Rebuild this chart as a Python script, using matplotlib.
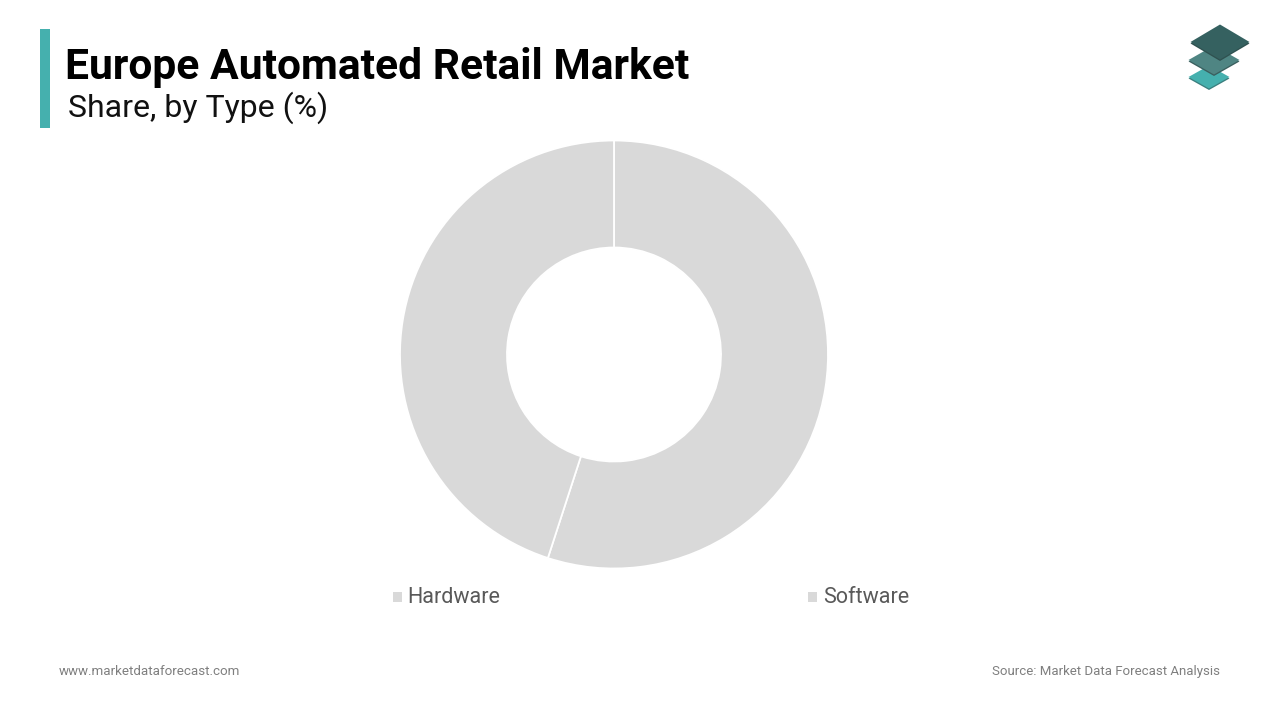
import matplotlib
matplotlib.use("Agg")
import matplotlib.pyplot as plt
from matplotlib.patches import Polygon, Rectangle

categories = ["Hardware", "Software"]
shares = [45, 55]
title = "Europe Automated Retail Market"
subtitle = "Share, by Type (%)"
footer_left = "www.marketdataforecast.com"
footer_right = "Source: Market Data Forecast Analysis"
GREY = "#D9D9D9"

plt.rcParams["font.family"] = ["Roboto", "DejaVu Sans"]
fig = plt.figure(figsize=(12.8, 7.2), dpi=100, facecolor="white")
bg = fig.add_axes([0, 0, 1, 1])
bg.set_xlim(0, 1280); bg.set_ylim(720, 0); bg.axis("off")

bg.add_patch(Rectangle((40, 29), 10, 99, fc="#45B0AE", ec="none"))
bg.text(65, 67, title, fontsize=30.7, fontweight="bold", color="#000000", va="center", ha="left")
bg.text(67.5, 108, subtitle, fontsize=23.0, color="#111111", va="center", ha="left")

# logo
def diamond(cx, cy, w, h, col, edge):
    bg.add_patch(Polygon([(cx - w, cy + 1.5), (cx, cy + h + 1.5), (cx + w, cy + 1.5), (cx, cy - h + 1.5)], fc=edge, ec="none"))
    bg.add_patch(Polygon([(cx - w, cy), (cx, cy + h), (cx + w, cy), (cx, cy - h)], fc=col, ec="none"))
diamond(1209, 77, 20.5, 11.5, "#45B0AE", "#3B7F7E")
diamond(1214, 60, 25.5, 14.5, "#4F8583", "#3A5F5E")
diamond(1220, 42, 29.5, 17.5, "#356160", "#2F5150")

# donut: centre (614,355), outer radius 214, inner 107
R = 214
ax = fig.add_axes([(614 - R) / 1280, 1 - (354.5 + R) / 720, 2 * R / 1280, 2 * R / 720])
ax.pie(shares[::-1], labels=None, colors=[GREY, GREY], startangle=90, counterclock=False,
       radius=1.0, wedgeprops=dict(width=1 - 107 / R, edgecolor="white", linewidth=1.3))
ax.set_xlim(-1, 1); ax.set_ylim(-1, 1)
ax.set_aspect("equal")

# legend
for name, sx, tx in zip(categories, [393, 808], [407.5, 823.5]):
    bg.add_patch(Rectangle((sx, 592), 9, 10, fc=GREY, ec="none"))
    bg.text(tx, 597.5, name, fontsize=15.5, color="#595959", va="center", ha="left")

bg.text(59, 671.5, footer_left, fontsize=9.6, color="#7F7F7F", va="center", ha="left")
bg.text(1220, 671.5, footer_right, fontsize=9.57, color="#7F7F7F", va="center", ha="right")

fig.savefig("out.png", dpi=100)
